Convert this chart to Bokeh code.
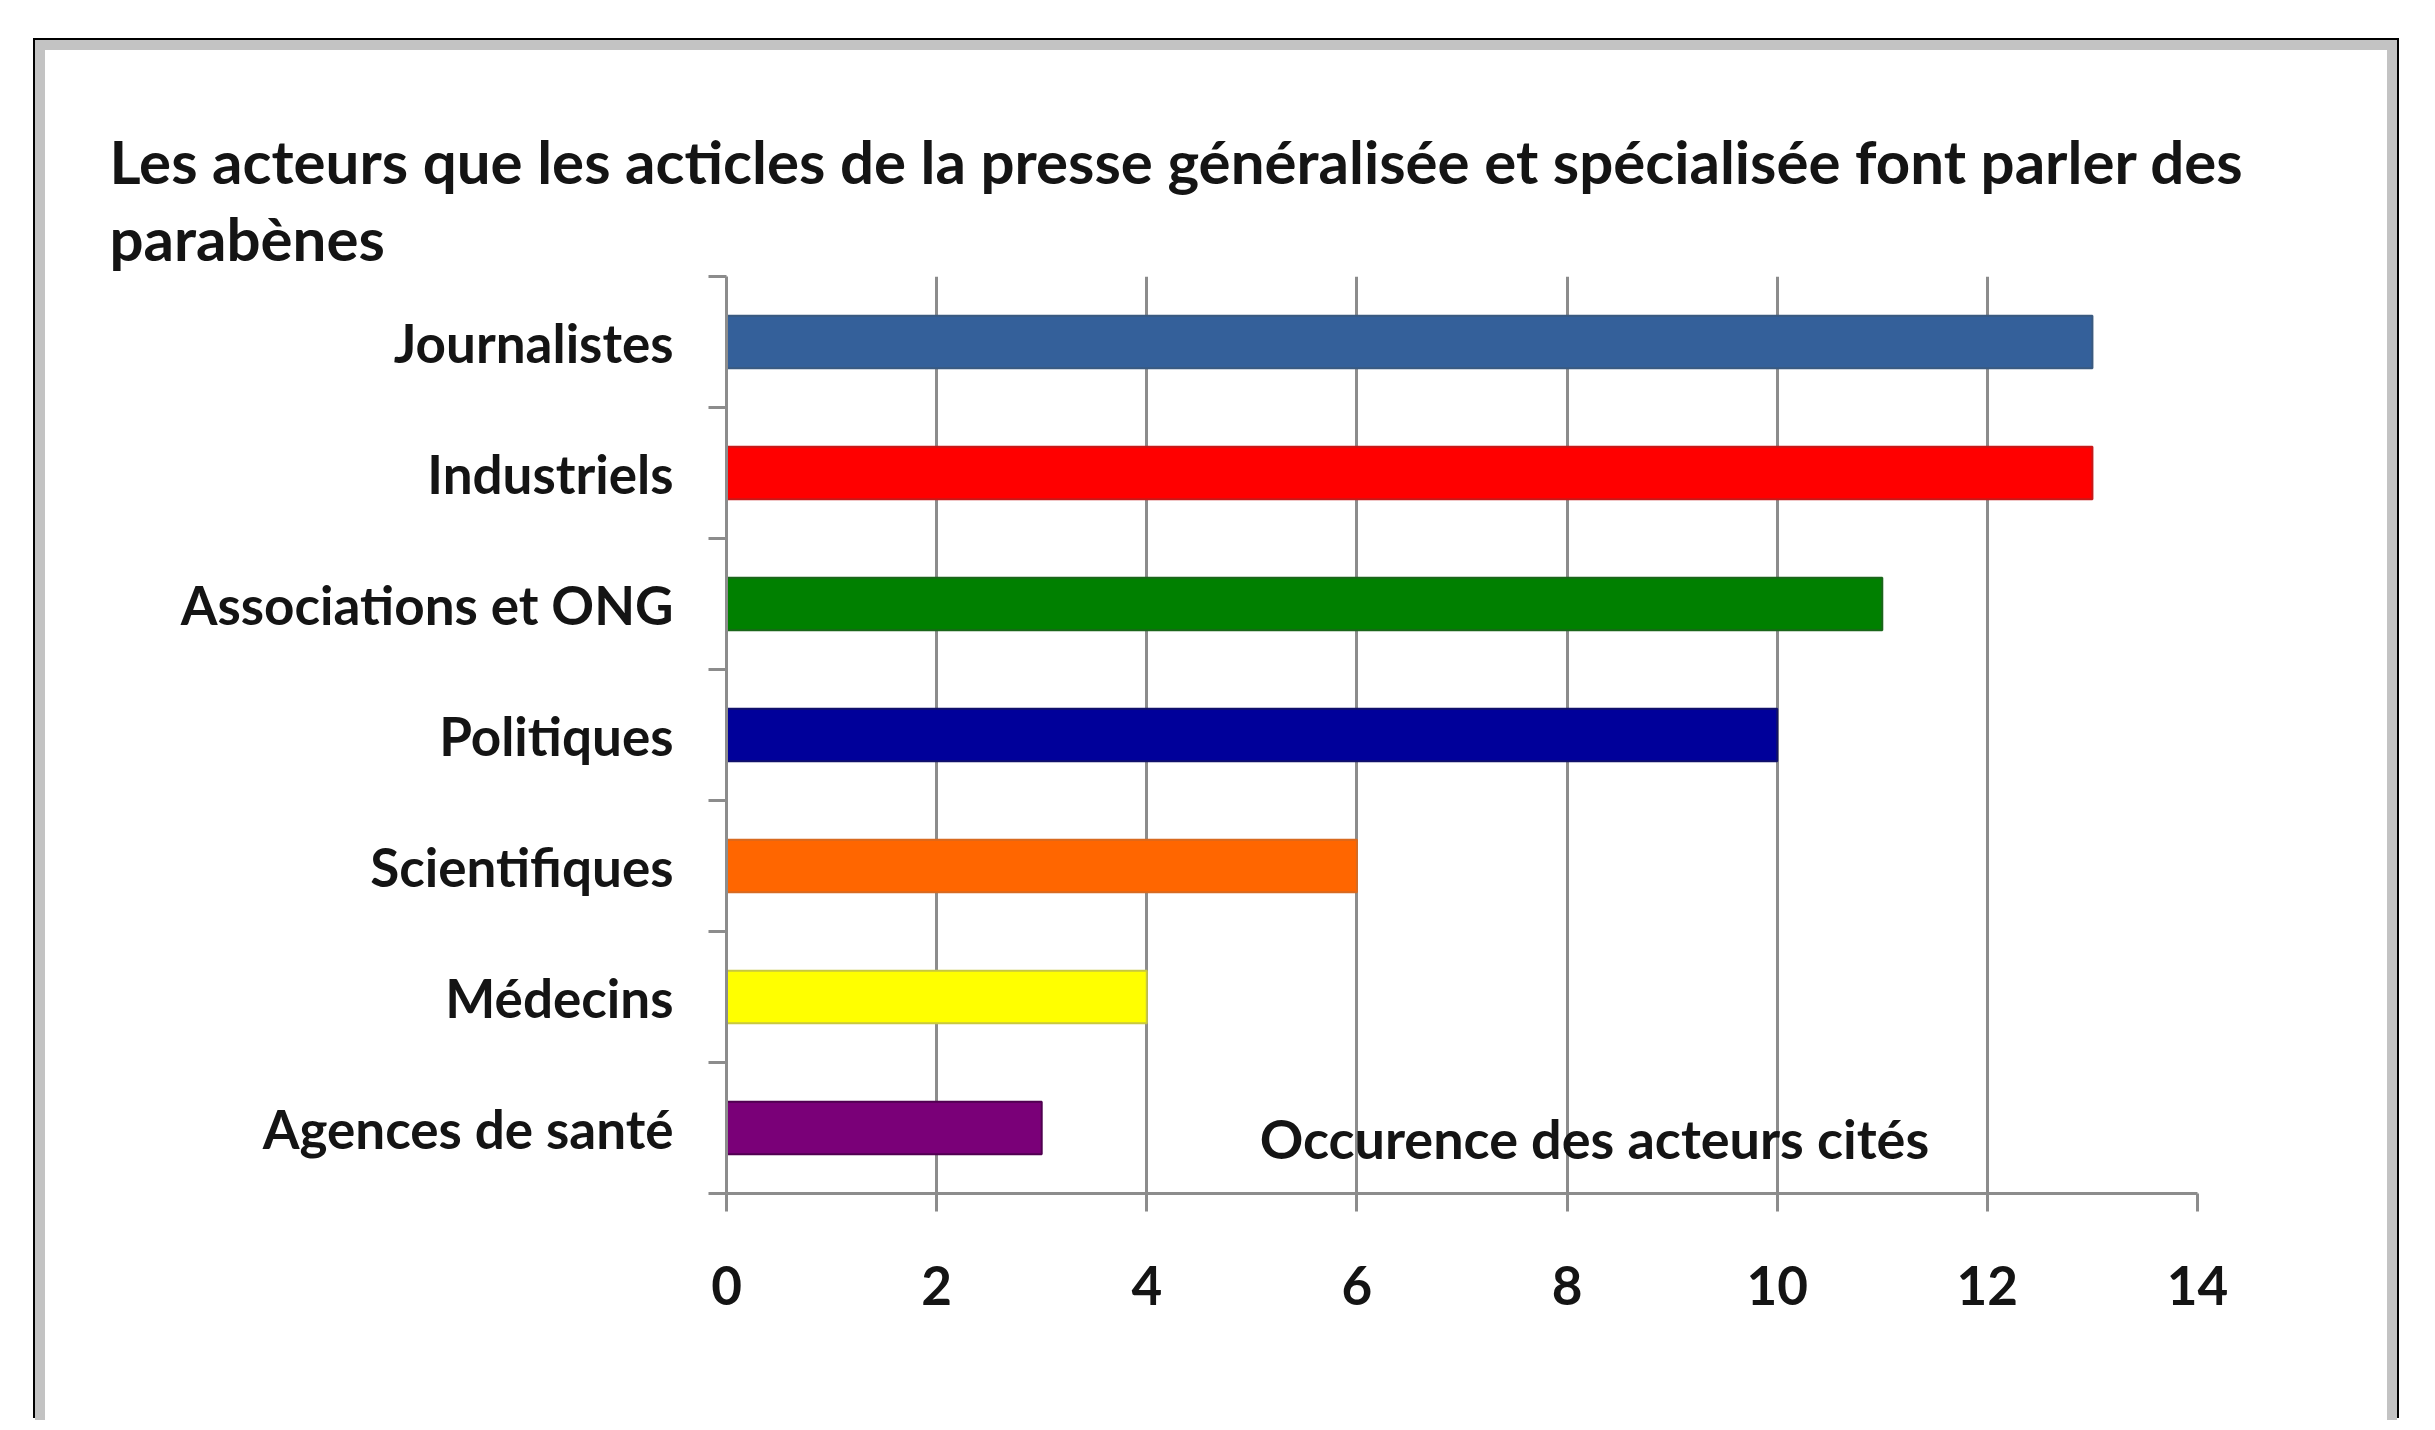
from bokeh.plotting import figure
from bokeh.models import ColumnDataSource, FixedTicker, Title, Label, Range1d
from bokeh.embed import file_html
from bokeh.resources import INLINE

categories = ["Journalistes", "Industriels", "Associations et ONG", "Politiques",
              "Scientifiques", "Médecins", "Agences de santé"]
values = [13, 13, 11, 10, 6, 4, 3]
colors = ["#34609a", "#ff0000", "#008000", "#00009a", "#ff6600", "#ffff00", "#7a0078"]
edge_colors = ["#3a5a80", "#c81818", "#1a661a", "#10106a", "#d86a20", "#c8c840", "#500050"]
x_ticks = [0, 2, 4, 6, 8, 10, 12, 14]
title_line1 = "Les acteurs que les acticles de la presse généralisée et spécialisée font parler des"
title_line2 = "parabènes"
x_axis_text = "Occurence des acteurs cités"

n = len(categories)
ypos = [n - i - 0.5 for i in range(n)]

FONT = "Lato"
TXT = "#141414"

src = ColumnDataSource(dict(y=ypos, v=values, c=colors, e=edge_colors, name=categories))

p = figure(width=2362, height=1380, output_backend="svg", toolbar_location=None,
           x_range=Range1d(0, 14), y_range=Range1d(0, n),
           min_border_left=681, min_border_right=210, min_border_top=226, min_border_bottom=237,
           margin=(40, 0, 0, 35),
           styles={"border-top": "10px solid #c3c3c3", "border-left": "10px solid #c3c3c3",
                   "border-right": "10px solid #c3c3c3",
                   "box-shadow": "-2px -2px 0 0 #000000, 2px -2px 0 0 #000000"})
p.outline_line_color = None
p.background_fill_color = "white"
p.border_fill_color = "white"

p.hbar(y="y", right="v", left=0, height=0.4, fill_color="c", line_color="e", line_width=2, source=src)

# titles (second line added first so it sits closest to the plot)
t2 = Title(text=title_line2, align="left", offset=-617, text_font=FONT, text_font_size="60px",
           text_font_style="bold", text_color=TXT, standoff=6)
t1 = Title(text=title_line1, align="left", offset=-617, text_font=FONT, text_font_size="60px",
           text_font_style="bold", text_color=TXT, standoff=0)
p.add_layout(t2, "above")
p.add_layout(t1, "above")
p.title.visible = False

# x axis
p.xaxis.ticker = FixedTicker(ticks=x_ticks)
p.xaxis.axis_line_color = "#8c8c8c"
p.xaxis.axis_line_width = 3
p.xaxis.major_tick_line_color = "#8c8c8c"
p.xaxis.major_tick_line_width = 3
p.xaxis.major_tick_out = 18
p.xaxis.major_tick_in = 0
p.xaxis.minor_tick_line_color = None
p.xaxis.major_label_standoff = 54
p.xaxis.major_label_text_font = FONT
p.xaxis.major_label_text_font_size = "53px"
p.xaxis.major_label_text_font_style = "bold"
p.xaxis.major_label_text_color = TXT

# y axis: labels at band centres, ticks at band boundaries
p.yaxis.ticker = FixedTicker(ticks=ypos, minor_ticks=list(range(n + 1)))
p.yaxis.major_label_overrides = {y: c for y, c in zip(ypos, categories)}
p.yaxis.axis_line_color = "#8c8c8c"
p.yaxis.axis_line_width = 3
p.yaxis.major_tick_line_color = None
p.yaxis.major_tick_out = 0
p.yaxis.major_tick_in = 0
p.yaxis.minor_tick_line_color = "#8c8c8c"
p.yaxis.minor_tick_line_width = 3
p.yaxis.minor_tick_out = 18
p.yaxis.minor_tick_in = 0
p.yaxis.major_label_standoff = 35
p.yaxis.major_label_text_font = FONT
p.yaxis.major_label_text_font_size = "53px"
p.yaxis.major_label_text_font_style = "bold"
p.yaxis.major_label_text_color = TXT

p.xgrid.ticker = FixedTicker(ticks=x_ticks)
p.xgrid.grid_line_color = "#8c8c8c"
p.xgrid.grid_line_width = 3
p.ygrid.grid_line_color = None

p.add_layout(Label(x=8.26, y=0.42, text=x_axis_text, text_align="center", text_baseline="middle",
                   text_font=FONT, text_font_size="54px", text_font_style="bold", text_color=TXT))

open("out.html", "w").write(file_html(p, INLINE))
